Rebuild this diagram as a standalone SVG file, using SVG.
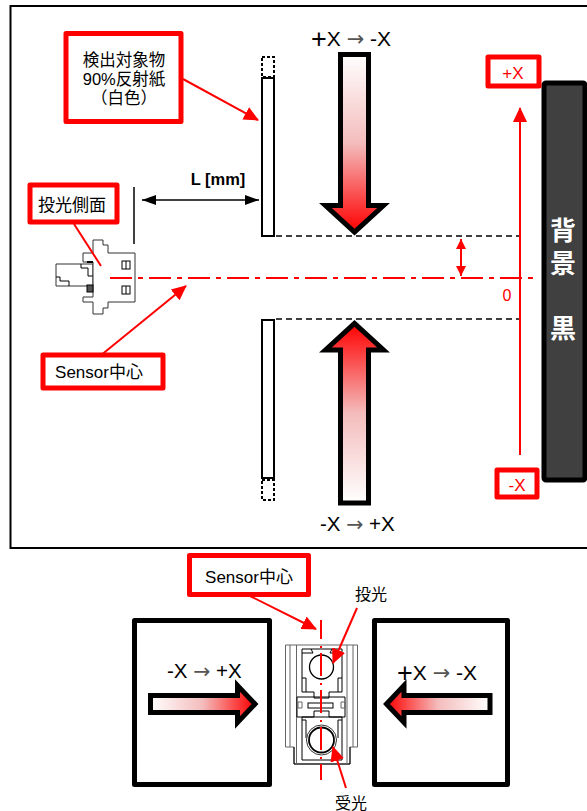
<svg xmlns="http://www.w3.org/2000/svg" width="587" height="811" viewBox="0 0 587 811">
<style>
text{font-family:"Liberation Sans","Noto Sans CJK JP",sans-serif}
.box{fill:#fff;stroke:#f00;stroke-width:5;stroke-linejoin:round}
.bb{fill:#fff;stroke:#000;stroke-width:5;stroke-linejoin:round}
.r{stroke:#f00;stroke-width:2;fill:none}
.cl{stroke:#f00;stroke-width:2;fill:none;stroke-dasharray:22 6 5 6}
.d{stroke:#000;stroke-width:1.5;stroke-dasharray:6 4;fill:none}
.k{stroke:#000;stroke-width:1;fill:none}
.k2{stroke:#333;stroke-width:1;fill:#fff}
.g{stroke:#666;stroke-width:1;fill:none}
.ar{stroke:#000;stroke-width:5;stroke-linejoin:miter}
.af{font-family:"DejaVu Sans",sans-serif;fill:#555}
</style>
<defs>
<marker id="rh" markerUnits="userSpaceOnUse" markerWidth="16" markerHeight="16" refX="14" refY="7" orient="auto-start-reverse" viewBox="0 0 16 14"><path d="M0 0L15 7L0 14z" fill="#f00"/></marker>
<marker id="rs" markerUnits="userSpaceOnUse" markerWidth="11" markerHeight="10" refX="10" refY="5" orient="auto-start-reverse" viewBox="0 0 11 10"><path d="M0 0L10 5L0 10z" fill="#f00"/></marker>
<marker id="kh" markerUnits="userSpaceOnUse" markerWidth="15" markerHeight="10" refX="14" refY="5" orient="auto-start-reverse" viewBox="0 0 15 10"><path d="M0 0L14 5L0 10z" fill="#000"/></marker>
<linearGradient id="gd" x1="0" y1="0" x2="0" y2="1"><stop offset="0" stop-color="#fff"/><stop offset=".5" stop-color="#f4bcbc"/><stop offset="1" stop-color="#f00"/></linearGradient>
<linearGradient id="gu" x1="0" y1="1" x2="0" y2="0"><stop offset="0" stop-color="#fff"/><stop offset=".5" stop-color="#f4bcbc"/><stop offset="1" stop-color="#f00"/></linearGradient>
<linearGradient id="gr" x1="0" y1="0" x2="1" y2="0"><stop offset="0" stop-color="#fff"/><stop offset=".5" stop-color="#f4bcbc"/><stop offset="1" stop-color="#f00"/></linearGradient>
<linearGradient id="gl" x1="1" y1="0" x2="0" y2="0"><stop offset="0" stop-color="#fff"/><stop offset=".5" stop-color="#f4bcbc"/><stop offset="1" stop-color="#f00"/></linearGradient>
</defs>

<g id="frame"><rect x="10.500" y="6" width="590" height="542" fill="#fff" stroke="#000" stroke-width="2"/></g>

<g id="background"><rect x="544" y="83" width="41" height="397" rx="2" fill="#404040" stroke="#000" stroke-width="5"/>
<g fill="#fff" font-size="26" font-weight="bold" text-anchor="middle"><text x="563" y="240">背</text><text x="563" y="273">景</text><text x="563" y="338">黒</text></g></g>

<g id="plate-top"><rect x="262" y="78" width="12" height="158" fill="#fff" stroke="#000" stroke-width="2"/><rect x="262" y="57" width="12" height="20" fill="#fff" stroke="#000" stroke-width="2" stroke-dasharray="3 2"/></g>
<g id="plate-bottom"><rect x="262" y="320" width="12" height="158" fill="#fff" stroke="#000" stroke-width="2"/><rect x="262" y="480" width="12" height="20" fill="#fff" stroke="#000" stroke-width="2" stroke-dasharray="3 2"/></g>

<g id="sensor">
<path class="k2" d="M56 264H93V286H56Z"/>
<path class="k" d="M56 277H60V281H69V286M81 264V268H88V276H93"/>
<path class="k2" d="M93 240H103V245H108V253H135V302H108V308H103V314H93V302H83V297H93V262H83V253H93Z"/>
<rect x="122" y="261" width="8" height="8" fill="#fff" stroke="#000"/><path d="M126 261V269M126 286V294" stroke="#000"/><rect x="122" y="286" width="8" height="8" fill="none" stroke="#000"/>
<rect x="87" y="285" width="6" height="7" fill="#555" stroke="#000"/><path d="M87 262H93" stroke="#000" stroke-width="2"/>
</g>

<g id="sensor-front">
<path class="g" d="M285.500 645H357.500V747H350V764H294V747H285.500Z" fill="#fff"/>
<path d="M294 747V764H350V747" class="k"/>
<path class="g" d="M290 645V747M296.500 645V764M347 645V764M353 645V747"/>
<path class="k" d="M302 649H342V692H329V698H314V692H302ZM302 717H314V711H329V717H342V760H302Z"/>
<path class="k" d="M297 697H345V717H297Z"/>
<rect x="308" y="703" width="25" height="5" class="k"/>
<path class="g" d="M298 702H302V708H298ZM341 702H345V708H341Z"/>
<path class="k" d="M302 678H306V692M338 692V678H342M302 720H306V738M338 738V720H342M302 653H313L311 649M342 653H330L332 649"/>
<circle cx="321.500" cy="667" r="12" fill="#fff" stroke="#000" stroke-width="1.300"/>
<circle cx="321.500" cy="740" r="15" fill="#fff" stroke="#333" stroke-width="1"/>
<circle cx="321.500" cy="740" r="12.500" fill="#fff" stroke="#000" stroke-width="1.800"/>
</g>

<g id="connectors">
<path class="d" d="M276 236H520M276 319H520"/>
<path class="cl" d="M110 278H533"/>
<path class="r" d="M520 108V455" marker-start="url(#rh)"/>
<path class="r" d="M461 239V276" marker-start="url(#rs)" marker-end="url(#rs)"/>
<path class="r" d="M183 79L258 120" marker-end="url(#rh)"/>
<path class="r" d="M74 224L101 266"/>
<path class="r" d="M100 356L186 286" marker-end="url(#rh)"/>
<path d="M134 187V244" stroke="#000" stroke-width="1.500" fill="none"/>
<path d="M142 200H259" stroke="#000" stroke-width="1.500" fill="none" marker-start="url(#kh)" marker-end="url(#kh)"/>
<path class="r" d="M250 596L316 629" marker-end="url(#rh)"/>
<path class="cl" style="stroke-dasharray:23 7 2 5;stroke-dashoffset:4" d="M321 620V780"/>
<path class="r" d="M357 608L333 663" marker-end="url(#rh)"/>
<path class="r" d="M346 788L333 747" marker-end="url(#rh)"/>
</g>

<g id="label-target"><rect class="box" x="66" y="33.500" width="115" height="88"/>
<g font-size="16.500" text-anchor="middle" fill="#000"><text x="124" y="66">検出対象物</text><text x="124" y="85">90%反射紙</text><text x="124" y="104">（白色）</text></g></g>
<g id="label-side"><rect class="box" x="30" y="185" width="87" height="37"/><text x="72" y="211" font-size="17" text-anchor="middle">投光側面</text></g>
<g id="label-center"><rect class="box" x="43" y="355" width="120" height="33"/><text x="99" y="378" font-size="17" text-anchor="middle">Sensor中心</text></g>
<g id="label-px"><rect class="box" x="488" y="57" width="51" height="29"/><text x="513" y="79" font-size="17" fill="#f00" text-anchor="middle">+X</text></g>
<g id="label-mx"><rect class="box" x="497" y="470" width="40" height="27"/><text x="517" y="491" font-size="17" fill="#f00" text-anchor="middle">-X</text></g>
<text id="label-zero" x="507" y="301" font-size="16" fill="#f00" text-anchor="middle">0</text>
<text id="label-l" x="218" y="185" font-size="16.500" font-weight="bold" text-anchor="middle">L [mm]</text>

<g id="arrow-down"><path class="ar" fill="url(#gd)" d="M340.500 54.500H368.500V205.500H383.500L354.500 232L325.500 205.500H340.500Z"/></g>
<g id="arrow-up"><path class="ar" fill="url(#gu)" d="M340.500 503H368.500V350H383.500L354.500 323.500L325.500 350H340.500Z"/></g>
<text id="title-top" x="311" y="46" font-size="21"><tspan font-size="27" dy="2">+</tspan><tspan dy="-2">X </tspan><tspan class="af">→</tspan> -X</text>
<text id="title-bottom" x="320" y="531" font-size="20.500">-X <tspan class="af">→</tspan> +X</text>

<g id="panel-left"><rect class="bb" x="134.500" y="620.500" width="135" height="164"/><text x="167" y="678" font-size="20.500">-X <tspan class="af">→</tspan> +X</text>
<path class="ar" fill="url(#gr)" d="M150.500 695.500H237.500V685.500L255 704L237.500 722.500V712.500H150.500Z"/></g>
<g id="panel-right"><rect class="bb" x="374.500" y="620.500" width="133" height="164"/><text x="397" y="680" font-size="21"><tspan font-size="27" dy="2">+</tspan><tspan dy="-2">X </tspan><tspan class="af">→</tspan> -X</text>
<path class="ar" fill="url(#gl)" d="M490 695.500H404V685.500L386.500 704L404 722.500V712.500H490Z"/></g>

<g id="label-center2"><rect class="box" x="189.500" y="555.500" width="119" height="39"/><text x="249" y="583" font-size="17" text-anchor="middle">Sensor中心</text></g>
<text id="label-emit" x="371" y="600" font-size="16" text-anchor="middle">投光</text>
<text id="label-recv" x="351" y="809" font-size="16" text-anchor="middle">受光</text>
</svg>
